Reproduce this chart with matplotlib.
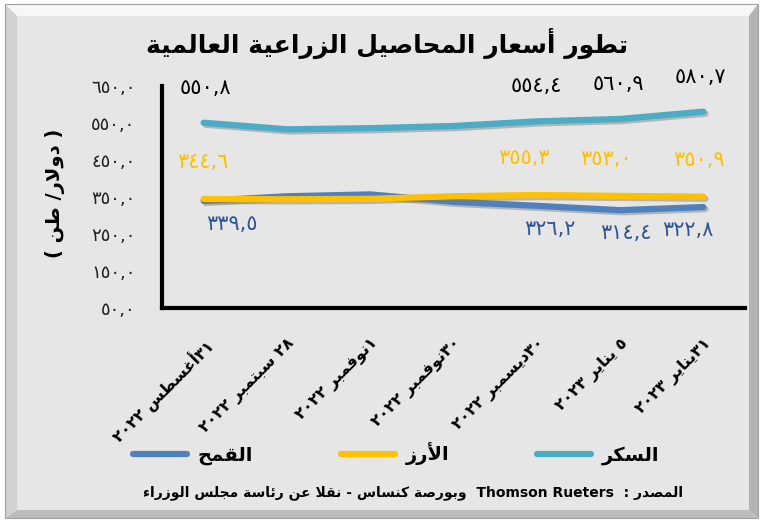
import re
import matplotlib
matplotlib.use("Agg")
import matplotlib.pyplot as plt
from matplotlib.patches import Polygon, Rectangle
from matplotlib.lines import Line2D
import matplotlib.patheffects as pe

# ---------------- data ----------------
categories = ["٣١أغسطس ٢٠٢٢", "٢٨ سبتمبر ٢٠٢٢", "١نوفمبر ٢٠٢٢", "٣٠نوفمبر ٢٠٢٢",
              "٣٠ديسمبر ٢٠٢٢", "٥ يناير ٢٠٢٣", "٣١يناير ٢٠٢٣"]
sugar = [550.8, 533, 536, 542, 554.4, 560.9, 580.7]
rice = [344.6, 344, 345, 352, 355.3, 353.0, 350.9]
wheat = [339.5, 352, 357, 337, 326.2, 314.4, 322.8]
labeled_points = [0, 4, 5, 6]
series_names = ["السكر", "الأرز", "القمح"]
yticks = [50, 150, 250, 350, 450, 550, 650]
title = "تطور أسعار المحاصيل الزراعية العالمية"
ylabel = "( دولار/ طن )"
source = "المصدر :  Thomson Rueters  وبورصة كنساس - نقلا عن رئاسة مجلس الوزراء"

# ---------------- minimal Arabic shaping + visual ordering ----------------
_T = {
    '\u0621': (0xFE80, 1), '\u0622': (0xFE81, 2), '\u0623': (0xFE83, 2), '\u0624': (0xFE85, 2),
    '\u0625': (0xFE87, 2), '\u0626': (0xFE89, 4), '\u0627': (0xFE8D, 2), '\u0628': (0xFE8F, 4),
    '\u0629': (0xFE93, 2), '\u062A': (0xFE95, 4), '\u062B': (0xFE99, 4), '\u062C': (0xFE9D, 4),
    '\u062D': (0xFEA1, 4), '\u062E': (0xFEA5, 4), '\u062F': (0xFEA9, 2), '\u0630': (0xFEAB, 2),
    '\u0631': (0xFEAD, 2), '\u0632': (0xFEAF, 2), '\u0633': (0xFEB1, 4), '\u0634': (0xFEB5, 4),
    '\u0635': (0xFEB9, 4), '\u0636': (0xFEBD, 4), '\u0637': (0xFEC1, 4), '\u0638': (0xFEC5, 4),
    '\u0639': (0xFEC9, 4), '\u063A': (0xFECD, 4), '\u0641': (0xFED1, 4), '\u0642': (0xFED5, 4),
    '\u0643': (0xFED9, 4), '\u0644': (0xFEDD, 4), '\u0645': (0xFEE1, 4), '\u0646': (0xFEE5, 4),
    '\u0647': (0xFEE9, 4), '\u0648': (0xFEED, 2), '\u0649': (0xFEEF, 2), '\u064A': (0xFEF1, 4),
}
_LA = {'\u0622': 0xFEF5, '\u0623': 0xFEF7, '\u0625': 0xFEF9, '\u0627': 0xFEFB}


def _shape(s):
    out = []
    n = len(s)
    i = 0
    while i < n:
        c = s[i]
        if c not in _T:
            out.append(c)
            i += 1
            continue
        prev = s[i - 1] if i > 0 else None
        jp = prev in _T and _T[prev][1] == 4
        if c == '\u0644' and i + 1 < n and s[i + 1] in _LA:
            out.append(chr(_LA[s[i + 1]] + (1 if jp else 0)))
            i += 2
            continue
        nxt = s[i + 1] if i + 1 < n else None
        start, k = _T[c]
        jn = k == 4 and nxt in _T and _T[nxt][1] > 1
        if k == 1:
            f = start
        elif k == 2:
            f = start + (1 if jp else 0)
        else:
            f = start + (3 if (jp and jn) else 1 if jp else 2 if jn else 0)
        out.append(chr(f))
        i += 1
    return ''.join(out)


_LTR = re.compile(r'[0-9\u0660-\u0669A-Za-z](?:[0-9\u0660-\u0669A-Za-z,. ]*[0-9\u0660-\u0669A-Za-z])?')


def vis(s):
    r = _shape(s)[::-1]
    r = _LTR.sub(lambda m: m.group(0)[::-1], r)
    return r.translate(str.maketrans('()', ')('))


_DIG = str.maketrans('0123456789.', '٠١٢٣٤٥٦٧٨٩,')


def ar_num(v):
    return f"{v:.1f}".translate(_DIG)


# ---------------- figure ----------------
W, H = 763, 522
fig = plt.figure(figsize=(W / 100, H / 100), dpi=100, facecolor="white")
plt.rcParams['font.family'] = ['DejaVu Sans']


def P(x, y):
    return (x / W, 1 - y / H)


def poly(pts, color):
    fig.add_artist(Polygon([P(*p) for p in pts], closed=True, transform=fig.transFigure,
                           facecolor=color, edgecolor='none', zorder=-10))


# bevelled frame
x0, y0, x1, y1 = 5, 4, 758, 518
ix0, iy0, ix1, iy1 = 17, 16, 749, 510
poly([(x0, y0), (x1, y0), (ix1, iy0), (ix0, iy0)], "#f7f7f7")
poly([(x0, y0), (ix0, iy0), (ix0, iy1), (x0, y1)], "#d2d2d2")
poly([(x1, y0), (x1, y1), (ix1, iy1), (ix1, iy0)], "#b4b4b4")
poly([(x0, y1), (ix0, iy1), (ix1, iy1), (x1, y1)], "#bdbdbd")
poly([(ix0, iy0), (ix1, iy0), (ix1, iy1), (ix0, iy1)], "#e6e6e6")
fig.add_artist(Rectangle(P(x0, y1), (x1 - x0) / W, (y1 - y0) / H, transform=fig.transFigure,
                         facecolor='none', edgecolor='#a0a0a0', lw=0.8, zorder=-9))

ax = fig.add_axes([162 / W, 1 - 308 / H, (745 - 162) / W, (308 - 86) / H])
ax.set_facecolor('none')
ax.set_xlim(-0.5, len(categories) - 0.5)
ax.set_ylim(50, 650)
for sp in ['top', 'right']:
    ax.spines[sp].set_visible(False)
for sp in ['left', 'bottom']:
    ax.spines[sp].set_linewidth(3)
    ax.spines[sp].set_color('black')

ax.set_yticks(yticks)
ax.set_yticklabels([ar_num(v) for v in yticks], fontsize=13, color='#222222')
ax.tick_params(axis='y', length=0, pad=19)
ax.set_xticks(range(len(categories)))
ax.set_xticklabels([vis(c) for c in categories], rotation=45, ha='right',
                   rotation_mode='anchor', fontsize=11.5, fontweight='bold')
ax.tick_params(axis='x', length=0, pad=20)

colors = {"sugar": "#4BACC6", "rice": "#FFC000", "wheat": "#4F81BD"}
shadow = [pe.SimpleLineShadow(offset=(1.5, -1.5), shadow_color='#777777', alpha=0.45), pe.Normal()]
x = list(range(len(categories)))
ax.plot(x, wheat, color=colors["wheat"], lw=4.5, solid_capstyle='round', path_effects=shadow, zorder=3)
ax.plot(x, rice, color=colors["rice"], lw=4.5, solid_capstyle='round', path_effects=shadow, zorder=4)
ax.plot(x, sugar, color=colors["sugar"], lw=4.5, solid_capstyle='round', path_effects=shadow, zorder=3)

# data labels
sugar_dx = [2, 0, -2, -3]
rice_dx = [-1, -13, -14, -4]
wheat_dx = [28, 13, 6, -15]
for j, i in enumerate(labeled_points):
    ax.annotate(ar_num(sugar[i]), (i, sugar[i]), xytext=(sugar_dx[j], 35), textcoords='offset pixels',
                ha='center', va='center', fontsize=15, color='black', annotation_clip=False)
    ax.annotate(ar_num(rice[i]), (i, rice[i]), xytext=(rice_dx[j], 37), textcoords='offset pixels',
                ha='center', va='center', fontsize=15, color='#FFC000', annotation_clip=False)
    ax.annotate(ar_num(wheat[i]), (i, wheat[i]), xytext=(wheat_dx[j], -23), textcoords='offset pixels',
                ha='center', va='center', fontsize=15, color='#2F5597', annotation_clip=False)

# texts
fig.text(*P(387, 43), vis(title), ha='center', va='center', fontsize=18, fontweight='bold')
fig.text(*P(55, 193), vis(ylabel), ha='center', va='center', rotation=90, fontsize=14, fontweight='bold')
fig.text(*P(413, 493), vis(source), ha='center', va='center', fontsize=10, fontweight='bold')

handles = [Line2D([], [], color=colors["wheat"], lw=4.5, solid_capstyle='round'),
           Line2D([], [], color=colors["rice"], lw=4.5, solid_capstyle='round'),
           Line2D([], [], color=colors["sugar"], lw=4.5, solid_capstyle='round')]
fig.legend(handles, [vis(series_names[2]), vis(series_names[1]), vis(series_names[0])],
           ncol=3, loc='center', bbox_to_anchor=P(396, 454), frameon=False,
           prop={'size': 14, 'weight': 'bold'}, handlelength=2.8, handletextpad=0.55,
           columnspacing=4.5)

fig.savefig("out.png", dpi=100, facecolor=fig.get_facecolor())
